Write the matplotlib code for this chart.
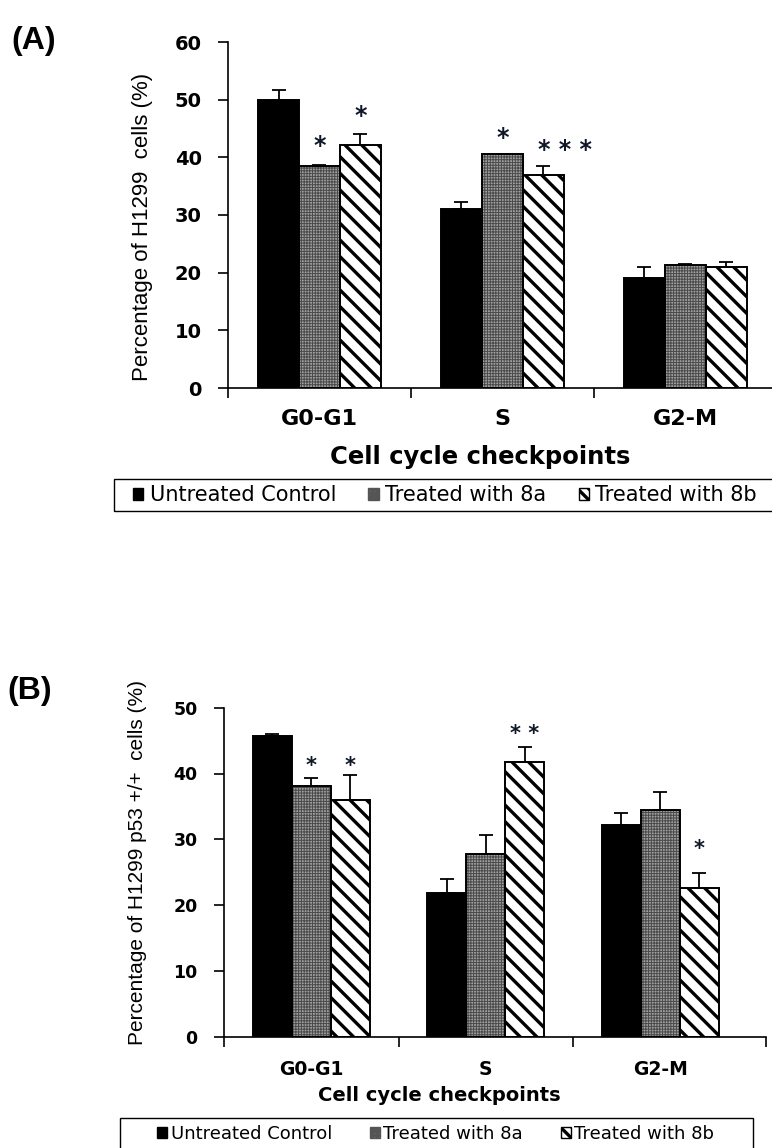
import numpy as np
import matplotlib
matplotlib.use('Agg')
import matplotlib.pyplot as plt
from matplotlib.patches import Patch, Rectangle

plt.rcParams['hatch.linewidth'] = 2.4

phases = ['G0-G1', 'S', 'G2-M']
groups = ['Untreated Control', 'Treated with 8a', 'Treated with 8b']

# H1299 cells (A)
a_mean = {'Untreated Control': [50.0, 31.0, 19.0],
          'Treated with 8a': [38.5, 40.5, 21.3],
          'Treated with 8b': [42.1, 36.9, 21.0]}
a_err = {'Untreated Control': [1.6, 1.3, 2.0],
         'Treated with 8a': [0.2, 0.1, 0.2],
         'Treated with 8b': [2.0, 1.6, 0.8]}
# (phase index, group index, stars, height)
a_stars = [(0, 1, '*', 42.0), (0, 2, '*', 47.2), (1, 1, '*', 43.4), (1, 2, '* * *', 41.3)]

# H1299 p53 +/+ cells (B)
b_mean = {'Untreated Control': [45.7, 21.9, 32.2],
          'Treated with 8a': [38.1, 27.7, 34.4],
          'Treated with 8b': [36.0, 41.8, 22.6]}
b_err = {'Untreated Control': [0.3, 2.1, 1.8],
         'Treated with 8a': [1.2, 2.9, 2.8],
         'Treated with 8b': [3.8, 2.3, 2.3]}
b_stars = [(0, 1, '*', 41.2), (0, 2, '*', 41.2), (1, 2, '* *', 46.0), (2, 2, '*', 28.5)]

# bar fill styles, plus the denser pattern used in the small legend keys
styles = {'Untreated Control': dict(fc='black', hc='black', hatch=None, hlw=2.4,
                                    key_hatch=None, key_hlw=1.0, key_ec='black'),
          'Treated with 8a': dict(fc='#a0a0a0', hc='#4a4a4a', hatch='++++++', hlw=0.7,
                                  key_hatch='++++', key_hlw=0.6, key_ec='#555555'),
          'Treated with 8b': dict(fc='white', hc='black', hatch='\\\\', hlw=2.4,
                                  key_hatch='\\\\\\', key_hlw=1.1, key_ec='black')}

BW = 0.224
SANS = ['Liberation Sans', 'DejaVu Sans']
BOLD = ['DejaVu Sans']


def set_hatch_lw(patches, lw):
    for p in patches:
        if hasattr(p, 'set_hatch_linewidth'):
            p.set_hatch_linewidth(lw)


def draw_panel(ax, mean, err, stars, ymax, xmax, fs):
    x = np.arange(len(phases))
    for gi, g in enumerate(groups):
        st = styles[g]
        pos = x + (gi - 1) * BW
        with plt.rc_context({'hatch.linewidth': st['hlw']}):
            bars = ax.bar(pos, mean[g], BW, color=st['fc'], edgecolor=st['hc'],
                          hatch=st['hatch'], linewidth=0, zorder=2)
        set_hatch_lw(bars, st['hlw'])
        ax.bar(pos, mean[g], BW, facecolor='none', edgecolor='black',
               linewidth=1.4, zorder=3)
        ax.errorbar(pos, mean[g], yerr=[np.zeros(3), err[g]], fmt='none',
                    ecolor='black', elinewidth=1.3, capsize=5, capthick=1.3, zorder=4)
    for pi, gi, s, h in stars:
        xs = pi + (gi - 1) * BW
        if len(s) > 3:
            ax.text(xs - 0.03, h, s, ha='left', va='center', fontsize=fs['star'],
                    fontweight='bold', family=BOLD, color='#101828')
        else:
            ax.text(xs, h, s, ha='center', va='center', fontsize=fs['star'],
                    fontweight='bold', family=BOLD, color='#101828')
    ax.set_xlim(-0.5, xmax)
    ax.set_ylim(0, ymax)
    ax.set_yticks(np.arange(0, ymax + 1, 10))
    ax.set_xticks(x)
    ax.set_xticklabels(phases, fontsize=fs['cat'], fontweight='bold', family=BOLD)
    ax.tick_params(axis='x', length=0, pad=fs['catpad'])
    ax.set_xticks([-0.5, 0.5, 1.5], minor=True)
    ax.tick_params(axis='x', which='minor', length=7, width=1.2, direction='out')
    ax.tick_params(axis='y', length=7, width=1.2, direction='out', pad=12)
    for lab in ax.get_yticklabels():
        lab.set_fontsize(fs['tick'])
        lab.set_fontweight('bold')
        lab.set_family(BOLD)
    for side in ['top', 'right']:
        ax.spines[side].set_visible(False)
    for side in ['left', 'bottom']:
        ax.spines[side].set_linewidth(1.2)


fig = plt.figure(figsize=(7.72, 11.48), dpi=100)
W, H = 772.0, 1148.0

# panel A
axA = fig.add_axes([228 / W, 1 - 388 / H, 548 / W, 346 / H])
draw_panel(axA, a_mean, a_err, a_stars, 60, 2.495,
           dict(star=17, cat=16, tick=14, catpad=15))
axA.set_ylabel('Percentage of H1299  cells (%)', fontsize=16, family=SANS)
axA.yaxis.set_label_coords(-0.137, 0.465)
axA.set_xlabel('Cell cycle checkpoints', fontsize=17.5, fontweight='bold', family=BOLD)
axA.xaxis.set_label_coords(0.461, -0.165)
fig.text(11 / W, 1 - 41 / H, '(A)', fontsize=23, fontweight='bold',
         family=SANS, va='center')

# panel B
axB = fig.add_axes([224 / W, 1 - 1036.7 / H, 542 / W, 329 / H])
draw_panel(axB, b_mean, b_err, b_stars, 50, 2.606,
           dict(star=15, cat=13.5, tick=12.5, catpad=17))
axB.set_xticks([-0.5, 0.5, 1.5, 2.606], minor=True)
axB.set_ylabel('Percentage of H1299 p53 +/+  cells (%)', fontsize=15, family=SANS)
axB.yaxis.set_label_coords(-0.142, 0.53)
axB.set_xlabel('Cell cycle checkpoints', fontsize=14, fontweight='bold', family=BOLD)
axB.xaxis.set_label_coords(0.398, -0.15)
fig.text(7 / W, 1 - 691 / H, '(B)', fontsize=23, fontweight='bold',
         family=SANS, va='center')


def legend_handles():
    hs = []
    for g in groups:
        st = styles[g]
        with plt.rc_context({'hatch.linewidth': st['key_hlw']}):
            p = Patch(facecolor=st['fc'], edgecolor=st['key_ec'],
                      hatch=st['key_hatch'], linewidth=1.0)
        set_hatch_lw([p], st['key_hlw'])
        hs.append(p)
    return hs


# legend boxes drawn as figure rectangles, entries placed inside
fig.patches.append(Rectangle((114 / W, 1 - 511 / H), 670 / W, 32 / H,
                             transform=fig.transFigure, facecolor='none',
                             edgecolor='black', linewidth=1.0))
fig.legend(legend_handles(), groups, loc='center left', ncol=3,
           bbox_to_anchor=(133 / W, 1 - 495 / H), frameon=False,
           prop=dict(family=BOLD, size=15),
           handlelength=0.5, handleheight=0.5, handletextpad=0.3,
           columnspacing=1.55, borderpad=0, borderaxespad=0)

fig.patches.append(Rectangle((120 / W, 1 - 1160 / H), 633 / W, 42 / H,
                             transform=fig.transFigure, facecolor='none',
                             edgecolor='black', linewidth=1.0))
fig.legend(legend_handles(), groups, loc='center left', ncol=3,
           bbox_to_anchor=(157 / W, 1 - 1134 / H), frameon=False,
           prop=dict(family=BOLD, size=13),
           handlelength=0.55, handleheight=0.55, handletextpad=0.2,
           columnspacing=2.1, borderpad=0, borderaxespad=0)

fig.savefig('out.png', dpi=100)
